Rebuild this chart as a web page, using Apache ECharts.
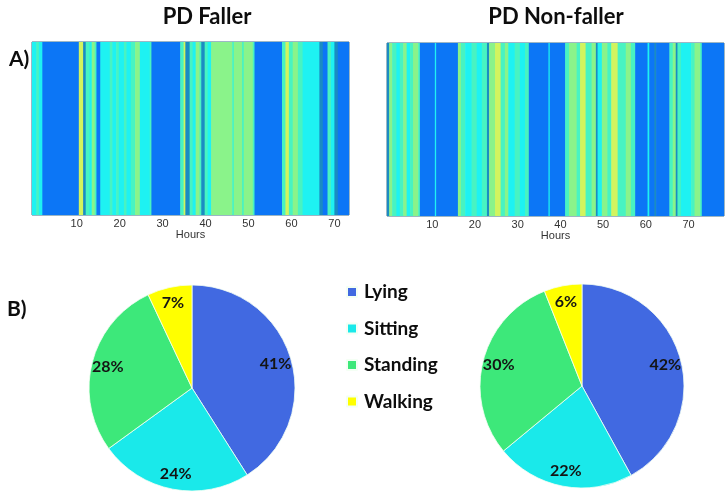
<!DOCTYPE html>
<html>
<head>
<meta charset="utf-8">
<script src="https://cdn.jsdelivr.net/npm/echarts@6/dist/echarts.min.js"></script>
<style>html,body{margin:0;padding:0;background:#fff}#c{width:727px;height:498px}</style>
</head>
<body>
<div id="c"></div>
<script>
// Activity levels: 0 lying, 1 transition (dark), 2 sitting (cyan), 3 sit/stand mix, 4 standing, 5 walking
var fallerEdges = [-0.4,0.6,1.2,2.0,10.5,11.5,12.1,13.0,13.5,14.2,14.6,15.5,17.7,18.3,19.2,19.8,21.0,21.6,22.6,23.6,24.7,27.0,27.4,34.1,34.9,35.3,36.3,37.0,37.7,38.6,39.0,39.8,40.5,41.3,46.2,46.6,48.5,48.9,51.0,51.4,57.8,58.6,59.4,60.3,61.5,62.6,66.5,67.3,68.4,69.2,70.0,70.8,73.4];
var fallerLevels = [2,3,2,0,5,1,3,2,4,3,0,2,3,2,3,2,3,2,3,4,2,3,0,3,5,1,3,2,4,3,1,3,2,4,3,4,3,4,3,0,3,5,3,4,3,2,1,0,3,2,1,0];
var nonFallerEdges = [-0.6,-0.1,0.6,1.6,2.4,3.2,4.0,4.8,5.5,6.7,7.1,10.6,10.9,16.0,16.7,17.7,19.2,20.4,21.6,22.8,23.3,24.7,26.0,27.0,27.8,29.3,30.5,31.7,32.6,37.2,37.5,41.1,42.0,43.8,44.6,45.9,47.3,48.3,48.7,49.7,51.0,51.9,53.4,55.3,56.5,57.5,60.4,60.8,62.0,62.4,65.5,66.3,67.0,67.4,68.2,70.6,71.4,72.7,73.1,78.3];
var nonFallerLevels = [1,4,3,2,3,4,2,3,4,3,0,2,0,4,3,2,3,2,3,1,4,5,3,4,2,3,2,3,0,2,0,3,4,3,5,3,4,1,2,4,3,5,3,4,3,0,2,0,1,0,3,4,1,3,2,3,4,3,0];
var hourTicks = [10,20,30,40,50,60,70];
var activities = ['Lying','Sitting','Standing','Walking'];
var fallerPct = [41,24,28,7];
var nonFallerPct = [42,22,30,6];
var panelTitles = ['PD Faller','PD Non-faller'];

var levelColors = ['#0c76f6','#1a8cc2','#1ef2f2','#48f3c2','#8af38a','#d2f45e'];
var pieColors = ['#4169e1','#1ae9ea','#3de87a','#ffff00'];

function segs(edges, levels){
  return levels.map(function(lv,i){return [edges[i], edges[i+1], lv];});
}
function renderSeg(params, api){
  var s = api.coord([api.value(0), 1]);
  var e = api.coord([api.value(1), 0]);
  return {type:'rect', shape:{x:s[0], y:s[1], width:e[0]-s[0]+0.6, height:e[1]-s[1]},
          style:{fill: levelColors[api.value(2)]}};
}
function pieData(vals){
  return activities.map(function(n,i){return {name:n, value:vals[i], itemStyle:{color:pieColors[i]}};});
}
var axisFont = {fontFamily:'Liberation Sans', fontSize:11, color:'#333'};
function xAx(idx, min, max){
  return {type:'value', gridIndex:idx, min:min, max:max,
    name:'Hours', nameLocation:'middle', nameGap:13,
    nameTextStyle:{fontFamily:'Liberation Sans', fontSize:11, color:'#333'},
    axisLine:{show:false}, splitLine:{show:false},
    axisTick:{show:true, inside:true, length:3, customValues:hourTicks, lineStyle:{color:'#445'}},
    axisLabel:Object.assign({margin:3, customValues:hourTicks}, axisFont)};
}
function yAx(idx){
  return {type:'value', gridIndex:idx, min:0, max:1, show:false};
}
var labelStyle = {show:true, position:'inside', fontFamily:'Lato', fontWeight:'bold', fontSize:16, color:'#141414',
  formatter:function(p){return p.value + '%';}};
function labelPie(center, r, vals){
  return {type:'pie', center:center, radius:r, startAngle:90, silent:true, legendHoverLink:false,
    itemStyle:{color:'rgba(0,0,0,0)', borderWidth:0}, label:labelStyle, labelLine:{show:false},
    emphasis:{disabled:true}, z:5,
    data:activities.map(function(n,i){return {name:n+' ', value:vals[i]};})};
}
var titleFont = {fontFamily:'Lato', fontWeight:'bold', fontSize:22, color:'#0d0d0d'};

var chart = echarts.init(document.getElementById('c'));
chart.setOption({
  animation:false,
  title:[
    {text:panelTitles[0], left:202, top:1, textAlign:'center', textStyle:titleFont},
    {text:panelTitles[1], left:551, top:1, textAlign:'center', textStyle:titleFont},
    {text:'A)', left:4, top:44, textStyle:{fontFamily:'Lato', fontWeight:'bold', fontSize:21, color:'#0d0d0d'}},
    {text:'B)', left:2, top:294, textStyle:{fontFamily:'Lato', fontWeight:'bold', fontSize:21, color:'#0d0d0d'}}
  ],
  legend:{data:activities, orient:'vertical', left:341, top:277, itemWidth:10, itemHeight:10, itemGap:16.5,
    icon:'rect', selectedMode:false,
    textStyle:{fontFamily:'Lato', fontWeight:'bold', fontSize:19, lineHeight:20, color:'#0d0d0d', padding:[0,0,0,2]}},
  grid:[
    {left:32, top:42, width:317, height:173, show:true, borderColor:'#3b6f8a', borderWidth:1, backgroundColor:'transparent'},
    {left:387, top:43, width:337, height:173, show:true, borderColor:'#3b6f8a', borderWidth:1, backgroundColor:'transparent'}
  ],
  xAxis:[xAx(0,-0.4,73.4), xAx(1,-0.6,78.3)],
  yAxis:[yAx(0), yAx(1)],
  series:[
    {type:'custom', xAxisIndex:0, yAxisIndex:0, renderItem:renderSeg, clip:true, encode:{x:[0,1]}, data:segs(fallerEdges, fallerLevels), silent:true},
    {type:'custom', xAxisIndex:1, yAxisIndex:1, renderItem:renderSeg, clip:true, encode:{x:[0,1]}, data:segs(nonFallerEdges, nonFallerLevels), silent:true},
    {type:'pie', center:[192,388], radius:103, startAngle:90, label:{show:false}, labelLine:{show:false},
      itemStyle:{borderColor:'#f4fff4', borderWidth:0.8}, data:pieData(fallerPct)},
    {type:'pie', center:[582,386], radius:102, startAngle:90, label:{show:false}, labelLine:{show:false},
      itemStyle:{borderColor:'#f4fff4', borderWidth:0.8}, data:pieData(nonFallerPct)},
    labelPie([192,388], 168, fallerPct),
    labelPie([582,386], 166, nonFallerPct)
  ]
});
</script>
</body>
</html>
